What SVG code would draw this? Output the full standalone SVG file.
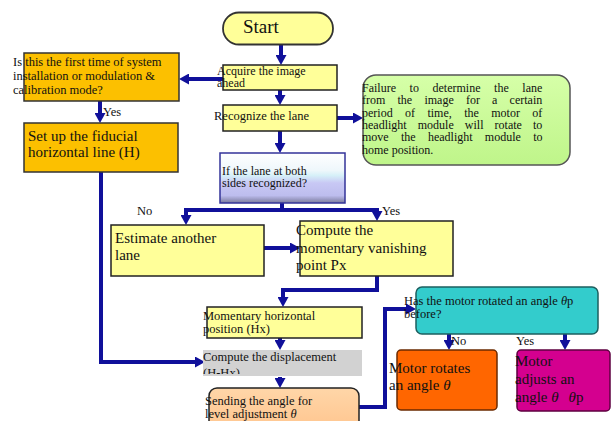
<svg xmlns="http://www.w3.org/2000/svg" width="611" height="421" viewBox="0 0 611 421">
<style>
text{font-family:"Liberation Serif","Times New Roman",serif;fill:#111}
.s{font-size:12.5px}
.t{font-size:12px}
.m{font-size:15px}
.yb{fill:#ffff99;stroke:#222;stroke-width:1.5}
.gb{fill:#fcc000;stroke:#333;stroke-width:1.5}
.c{fill:none;stroke:#10109a;stroke-width:4;stroke-linejoin:miter}
.cm{marker-end:url(#ah)}
</style>
<defs>
<marker id="ah" markerUnits="userSpaceOnUse" markerWidth="10" markerHeight="11" viewBox="0 0 10 11" refX="4" refY="5.5" orient="auto">
<path d="M0,0 L10,5.5 L0,11 z" fill="#10109a"/>
</marker>
<linearGradient id="dec" x1="0" y1="0" x2="0" y2="1">
<stop offset="0" stop-color="#ffffff"/>
<stop offset="0.35" stop-color="#eef7fb"/>
<stop offset="0.45" stop-color="#d6f0f8"/>
<stop offset="0.6" stop-color="#c8c8f4"/>
<stop offset="0.85" stop-color="#bdbdee"/>
<stop offset="1" stop-color="#7a7a9c"/>
</linearGradient>
<linearGradient id="grn" x1="0" y1="0" x2="0" y2="1">
<stop offset="0" stop-color="#d6ffa8"/>
<stop offset="1" stop-color="#bff58a"/>
</linearGradient>
<linearGradient id="pch" x1="0" y1="0" x2="0" y2="1">
<stop offset="0" stop-color="#ffd6a8"/>
<stop offset="1" stop-color="#ffc28a"/>
</linearGradient>
<clipPath id="dispclip"><rect x="190" y="350" width="180" height="24"/></clipPath>
</defs>

<g id="connectors">
<path class="c cm" d="M281,45 V59"/>
<path class="c cm" d="M223,79 H185"/>
<path class="c cm" d="M100,101 V117"/>
<path class="c cm" d="M280,90 V99"/>
<path class="c cm" d="M337,118 H357"/>
<path class="c cm" d="M280,131 V147"/>
<path class="c" d="M282,203 V210"/>
<path class="c" d="M184,210 H379"/>
<path class="c cm" d="M186,208 V219"/>
<path class="c cm" d="M377,208 V215"/>
<path class="c cm" d="M264,248 H294"/>
<path class="c cm" d="M377,276 V290 H283 V301"/>
<path class="c cm" d="M101,172 V362 H199"/>
<path class="c cm" d="M280,338 V344"/>
<path class="c cm" d="M280,377 V382"/>
<path class="c cm" d="M359,407 H385 V309 H410"/>
<path class="c cm" d="M449,334 V344"/>
<path class="c cm" d="M565,334 V344"/>
</g>

<g id="start">
<rect x="223" y="12.5" width="110" height="32" rx="16" fill="#ffff99" stroke="#333" stroke-width="1.8"/>
<text x="243" y="33" style="font-size:19px">Start</text>
</g>

<g id="acquire">
<rect class="yb" x="223" y="65" width="114" height="25"/>
<text class="t" x="217" y="75">Acquire the image</text>
<text class="t" x="217" y="87">ahead</text>
</g>

<g id="first-time">
<rect class="gb" x="24" y="53" width="155" height="48"/>
<text class="s" x="13" y="66">Is this the first time of system</text>
<text class="s" x="13" y="80">installation or modulation &amp;</text>
<text class="s" x="13" y="94">calibration mode?</text>
<text class="s" x="103" y="116">Yes</text>
</g>

<g id="fiducial">
<rect class="gb" x="24" y="123" width="154" height="49"/>
<text class="m" x="28" y="141">Set up the fiducial</text>
<text class="m" x="28" y="157">horizontal line (H)</text>
</g>

<g id="recognize">
<rect class="yb" x="223" y="105" width="114" height="26"/>
<text class="s" x="214" y="120">Recognize the lane</text>
</g>

<g id="failure">
<rect x="363" y="75" width="207" height="90" rx="13" fill="url(#grn)" stroke="#555" stroke-width="1.5"/>
<text class="t" x="362" y="92" word-spacing="10.6">Failure to determine the lane</text>
<text class="t" x="362" y="104.3" word-spacing="9.2">from the image for a certain</text>
<text class="t" x="362" y="116.6" word-spacing="9.4">period of time, the motor of</text>
<text class="t" x="362" y="128.9" word-spacing="8.1">headlight module will rotate to</text>
<text class="t" x="362" y="141.2" word-spacing="9.3">move the headlight module to</text>
<text class="t" x="362" y="153.5">home position.</text>
</g>

<g id="decision-lane">
<rect x="220" y="153" width="125" height="50" fill="url(#dec)" stroke="#333399" stroke-width="1.5"/>
<text class="t" x="222" y="175">If the lane at both</text>
<text class="t" x="222" y="187">sides recognized?</text>
<text class="s" x="137" y="215">No</text>
<text class="s" x="382" y="215">Yes</text>
</g>

<g id="estimate">
<rect class="yb" x="111" y="225" width="153" height="51"/>
<text class="m" x="115" y="243">Estimate another</text>
<text class="m" x="115" y="260">lane</text>
</g>

<g id="vanishing">
<rect class="yb" x="300" y="221" width="153" height="55"/>
<text class="m" x="296" y="235">Compute the</text>
<text class="m" x="296" y="253">momentary vanishing</text>
<text class="m" x="296" y="270">point Px</text>
</g>

<g id="momentary">
<rect class="yb" x="207" y="307" width="155" height="31"/>
<text class="s" x="203" y="320">Momentary horizontal</text>
<text class="s" x="203" y="333">position (Hx)</text>
</g>

<g id="displacement">
<rect x="203" y="350" width="159" height="26" fill="#d2d2d2"/>
<g clip-path="url(#dispclip)">
<text class="s" x="203" y="361">Compute the displacement</text>
<text class="s" x="203" y="377">(H-Hx)</text>
</g>
</g>

<g id="sending">
<rect x="209" y="388" width="150" height="50" rx="8" fill="url(#pch)" stroke="#222" stroke-width="1.5"/>
<text class="s" x="205" y="405">Sending the angle for</text>
<text class="s" x="205" y="418">level adjustment <tspan font-style="italic">θ</tspan></text>
</g>

<g id="motor-check">
<rect x="416" y="287" width="182" height="47" rx="6" fill="#33cccc" stroke="#1d5f5f" stroke-width="1.5"/>
<text class="s" x="404" y="305">Has the motor rotated an angle <tspan font-style="italic">θ</tspan>p</text>
<text class="s" x="404" y="318">before?</text>
<text class="s" x="451" y="345">No</text>
<text class="s" x="516" y="345">Yes</text>
</g>

<g id="motor-rotates">
<rect x="397" y="350" width="100" height="60" rx="4" fill="#ff6600" stroke="#6b2a00" stroke-width="1.5"/>
<text class="m" x="389" y="373">Motor rotates</text>
<text class="m" x="389" y="390">an angle <tspan font-style="italic">θ</tspan></text>
</g>

<g id="motor-adjusts">
<rect x="517" y="350" width="93" height="61" rx="4" fill="#d4008f" stroke="#5e0040" stroke-width="1.5"/>
<text class="m" x="515" y="366">Motor</text>
<text class="m" x="515" y="384">adjusts an</text>
<text class="m" x="515" y="402">angle <tspan font-style="italic">θ</tspan><tspan dx="10" font-style="italic">θ</tspan>p</text>
</g>
</svg>
